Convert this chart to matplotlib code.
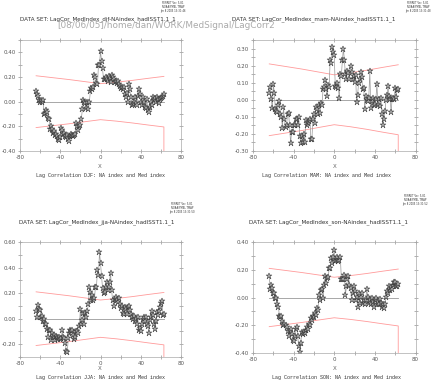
import numpy as np
import matplotlib
matplotlib.use('Agg')
import matplotlib.pyplot as plt
from matplotlib.ticker import MultipleLocator, FormatStrFormatter

plt.rcParams['axes.unicode_minus'] = False

# --- data: lag correlation, lags -64..63 ---
lags = np.arange(-64, 64)

djf = [0.09, 0.06, 0.05, 0.01, 0.00, 0.01, 0.00, 0.01,
       -0.10, -0.09, -0.07, -0.08, -0.13, -0.14, -0.22, -0.20,
       -0.22, -0.25, -0.24, -0.27, -0.26, -0.28, -0.30, -0.31,
       -0.29, -0.21, -0.23, -0.26, -0.25, -0.28, -0.29, -0.27,
       -0.30, -0.32, -0.28, -0.26, -0.27, -0.28, -0.27, -0.26,
       -0.17, -0.20, -0.23, -0.20, -0.19, -0.14, -0.06, 0.01,
       0.00, -0.01, -0.05, 0.00, -0.06, 0.00, 0.09, 0.11,
       0.10, 0.12, 0.22, 0.20, 0.15, 0.14, 0.30, 0.30,
       0.41, 0.33, 0.27, 0.18, 0.18, 0.20, 0.18, 0.17,
       0.21, 0.19, 0.16, 0.22, 0.20, 0.18, 0.16, 0.17,
       0.15, 0.17, 0.14, 0.13, 0.11, 0.12, 0.10, 0.12,
       0.06, 0.04, 0.07, 0.00, 0.14, 0.10, 0.04, -0.03,
       -0.02, 0.00, 0.04, -0.01, -0.03, 0.05, 0.10, 0.06,
       0.00, -0.03, 0.04, 0.00, -0.04, -0.05, 0.02, -0.07,
       -0.08, -0.04, 0.00, -0.03, 0.04, 0.01, 0.03, 0.00,
       0.04, 0.02, -0.01, 0.02, 0.03, 0.04, 0.05, 0.06]

mam = [0.04, 0.075, 0.005, -0.05, 0.09, 0.04, -0.055, -0.065,
       -0.07, -0.03, -0.01, -0.085, -0.10, -0.165, -0.045, -0.115,
       -0.16, -0.15, -0.085, -0.08, -0.15, -0.255, -0.19, -0.19,
       -0.15, -0.15, -0.11, -0.11, -0.15, -0.10, -0.21, -0.255,
       -0.21, -0.25, -0.20, -0.25, -0.12, -0.145, -0.135, -0.125,
       -0.115, -0.23, -0.23, -0.11, -0.085, -0.135, -0.045, -0.055,
       -0.085, -0.03, -0.075, -0.02, -0.03, 0.065, 0.075, 0.115,
       0.065, 0.02, 0.085, 0.075, 0.235, 0.215, 0.31, 0.28,
       0.26, 0.08, 0.075, 0.10, 0.07, 0.01, 0.15, 0.14,
       0.23, 0.30, 0.23, 0.15, 0.12, 0.17, 0.155, 0.12,
       0.20, 0.165, 0.12, 0.14, 0.105, 0.145, -0.015, 0.03,
       0.10, 0.12, 0.165, 0.135, 0.065, 0.07, -0.055, 0.02,
       0.00, -0.01, 0.01, 0.17, -0.05, -0.01, 0.01, -0.03,
       -0.025, 0.005, 0.09, -0.03, 0.005, -0.035, 0.01, -0.085,
       -0.15, -0.115, -0.065, 0.00, 0.03, 0.08, 0.02, 0.005,
       -0.07, 0.005, 0.01, 0.005, 0.07, 0.015, 0.06, 0.065]

jja = [0.06, 0.01, 0.11, 0.075, 0.07, 0.01, 0.02, -0.02,
       -0.005, -0.045, -0.045, -0.08, -0.14, -0.09, -0.085, -0.17,
       -0.115, -0.145, -0.125, -0.17, -0.135, -0.145, -0.16, -0.14,
       -0.16, -0.155, -0.09, -0.145, -0.155, -0.19, -0.255, -0.26,
       -0.155, -0.115, -0.085, -0.10, -0.085, -0.13, -0.16, -0.145,
       -0.10, -0.10, -0.11, -0.06, 0.075, -0.045, -0.01, 0.045,
       -0.045, 0.045, 0.01, 0.06, 0.115, 0.245, 0.21, 0.145,
       0.185, 0.15, 0.16, 0.25, 0.25, 0.38, 0.345, 0.52,
       0.435, 0.335, 0.24, 0.20, 0.21, 0.25, 0.29, 0.225,
       0.25, 0.29, 0.36, 0.225, 0.145, 0.10, 0.155, 0.17,
       0.145, 0.13, 0.16, 0.115, 0.08, 0.10, 0.045, 0.035,
       0.09, 0.075, 0.035, 0.09, 0.10, 0.07, 0.035, 0.015,
       -0.005, 0.02, -0.02, 0.00, -0.045, 0.01, -0.09, -0.075,
       -0.10, -0.045, -0.005, 0.015, -0.02, 0.01, -0.045, -0.055,
       -0.115, -0.01, 0.01, 0.06, 0.025, -0.045, -0.08, -0.02,
       0.05, 0.025, 0.06, 0.09, 0.125, 0.135, 0.025, 0.035]

son = [0.155, 0.06, 0.09, 0.07, 0.035, 0.03, -0.005, 0.00,
       -0.05, -0.065, -0.135, -0.14, -0.135, -0.17, -0.195, -0.19,
       -0.20, -0.21, -0.245, -0.275, -0.245, -0.23, -0.26, -0.305,
       -0.315, -0.28, -0.225, -0.21, -0.28, -0.35, -0.39, -0.33,
       -0.25, -0.26, -0.25, -0.255, -0.235, -0.21, -0.23, -0.19,
       -0.195, -0.15, -0.16, -0.13, -0.14, -0.11, -0.125, -0.075,
       -0.09, 0.015, -0.015, 0.055, 0.06, -0.005, 0.09, 0.155,
       0.105, 0.14, 0.145, 0.21, 0.21, 0.285, 0.25, 0.295,
       0.34, 0.26, 0.27, 0.295, 0.26, 0.27, 0.29, 0.135,
       0.135, 0.135, 0.165, 0.02, 0.08, 0.135, 0.155, 0.09,
       0.07, -0.015, 0.03, 0.085, 0.045, -0.015, 0.005, -0.07,
       0.03, -0.04, 0.005, 0.03, -0.04, -0.015, -0.05, -0.02,
       0.06, 0.005, -0.04, -0.015, -0.05, -0.005, -0.035, -0.07,
       -0.015, -0.005, -0.05, -0.035, -0.05, -0.01, -0.04, -0.065,
       -0.05, -0.075, -0.05, 0.005, 0.045, 0.035, 0.08, 0.055,
       0.075, 0.06, 0.09, 0.11, 0.115, 0.08, 0.085, 0.10]

# significance lines (same for every season)
conf_x = [-64, -48, -32, -16, 0, 16, 32, 48, 63]
conf_hi = [0.21, 0.195, 0.18, 0.163, 0.146, 0.158, 0.173, 0.19, 0.205]
conf_lo_x = [-64, -48, -32, -16, 0, 16, 32, 48, 63, 63]
conf_lo = [-0.21, -0.195, -0.18, -0.163, -0.146, -0.158, -0.173, -0.19, -0.205, -1.0]

seasons = ['djf', 'mam', 'jja', 'son']
season_names = ['DJF', 'MAM', 'JJA', 'SON']
series = [djf, mam, jja, son]
ylims = [(-0.4, 0.5), (-0.3, 0.35), (-0.3, 0.6), (-0.4, 0.4)]
ymajor = [0.2, 0.1, 0.2, 0.2]
yminor = [0.1, 0.05, 0.1, 0.1]

W, H = 432, 381
# axes boxes in pixels: left, top, right, bottom
boxes = [(20, 40, 181, 151), (253, 40, 415.5, 151),
         (20, 242, 181, 357), (253, 242, 415.5, 353)]
dataset_pos = [(20, 19), (232, 19), (19, 222), (249, 222)]
caption_pos = [(101, 176), (327, 176), (101, 377), (336, 377)]
xlab_pos = [(100, 166), (335, 166), (100, 368), (335, 368)]
stamp_pos = [(173, 1), (418, 1), (182, 202), (415, 194)]
stamp_time = ['13:31:46', '13:31:48', '13:31:50', '13:31:52']


def fx(px):
    return px / W


def fy(py):
    return 1 - py / H


fig = plt.figure(figsize=(W / 100, H / 100), dpi=100)

for i in range(4):
    l, t, r, b = boxes[i]
    ax = fig.add_axes([fx(l), fy(b), (r - l) / W, (b - t) / H])
    ax.plot([lags[0], lags[-1]], [0, 0], color='#999999', lw=0.6)
    ax.plot(conf_x, conf_hi, color='#ff9a9a', lw=0.6)
    ax.plot(conf_lo_x, conf_lo, color='#ff9a9a', lw=0.6)
    ax.plot(lags, series[i], color='#999999', lw=0.5, marker='*', ms=5,
            mfc='#a8a8a8', mec='#303030', mew=0.35)
    ax.set_xlim(-80, 80)
    ax.set_ylim(*ylims[i])
    ax.xaxis.set_major_locator(MultipleLocator(40))
    ax.xaxis.set_minor_locator(MultipleLocator(20))
    ax.yaxis.set_major_locator(MultipleLocator(ymajor[i]))
    ax.yaxis.set_minor_locator(MultipleLocator(yminor[i]))
    ax.yaxis.set_major_formatter(FormatStrFormatter('%.2f'))
    ax.tick_params(which='both', direction='inout', length=2.5, width=0.4,
                   color='#777777', labelsize=4, labelcolor='#555555', pad=1.5,
                   top=True, right=True)
    for sp in ax.spines.values():
        sp.set_color('#aaaaaa')
        sp.set_linewidth(0.5)

    fig.text(fx(dataset_pos[i][0]), fy(dataset_pos[i][1]),
             f'DATA SET: LagCor_MedIndex_{seasons[i]}-NAindex_hadISST1.1_1',
             fontsize=4.1, color='#333333', va='center', ha='left')
    fig.text(fx(xlab_pos[i][0]), fy(xlab_pos[i][1]), 'X',
             fontsize=4, color='#666666', va='center', ha='center')
    fig.text(fx(caption_pos[i][0]), fy(caption_pos[i][1]),
             f'Lag Correlation {season_names[i]}: NA index and Med index',
             fontsize=3.6, family='Liberation Mono', color='#333333',
             va='center', ha='center')
    fig.text(fx(stamp_pos[i][0]), fy(stamp_pos[i][1]),
             f'FERRET Ver. 5.81\nNOAA/PMEL TMAP\nJun 8 2005 {stamp_time[i]}',
             fontsize=1.8, color='#333333', va='top', ha='center',
             linespacing=1.0)

fig.text(fx(57), fy(25.8), '[08/06/05]/home/dan/WORK/MedSignal/LagCorr2',
         fontsize=6.4, color='#aaaaaa', va='center', ha='left')

fig.savefig('out.png', dpi=100)
